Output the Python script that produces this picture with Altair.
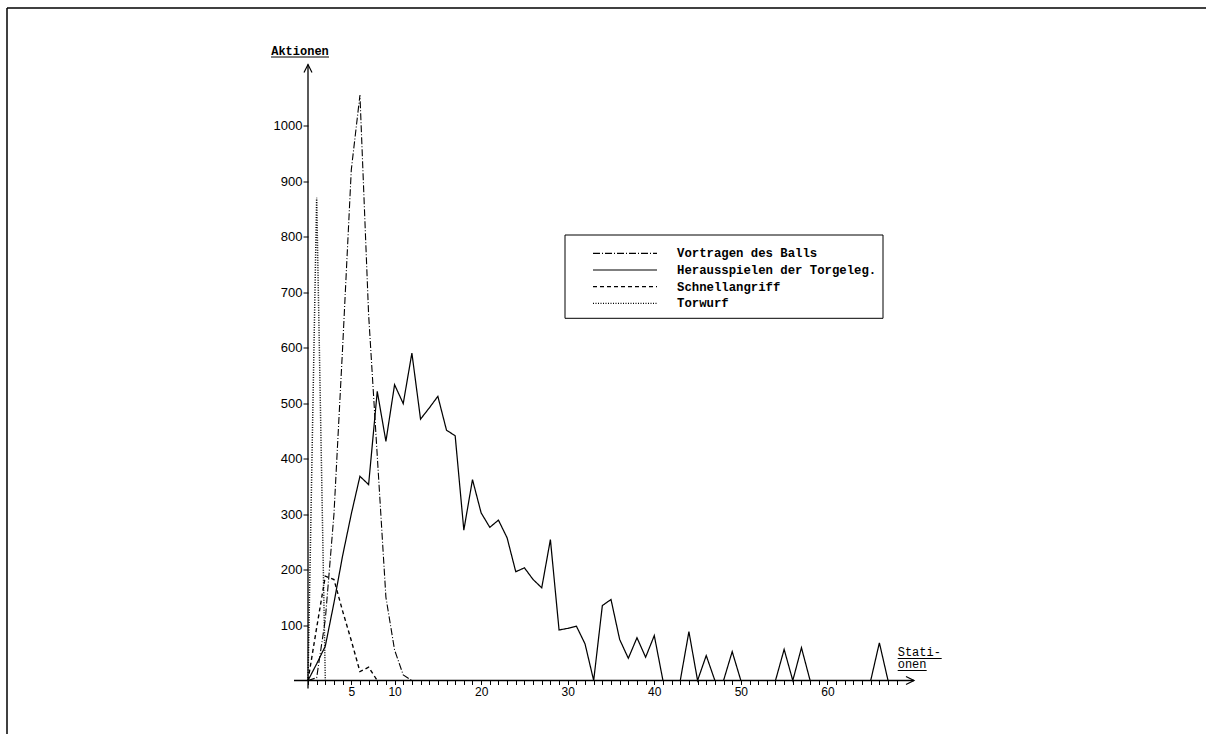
import altair as alt
import pandas as pd

# ---- data ----
series_names = ["Vortragen des Balls", "Herausspielen der Torgeleg.", "Schnellangriff", "Torwurf"]

vortragen = [0, 5, 110, 300, 600, 920, 1055, 660, 405, 150, 55, 10, 0]
herausspielen = [0, 30, 62, 140, 225, 300, 368, 353, 521, 431, 533, 499, 590, 471, 491,
                 512, 451, 441, 271, 362, 302, 276, 289, 257, 196, 203, 182, 167, 254, 91,
                 94, 98, 66, 0, 135, 146, 74, 40, 77, 42, 81, 0, 0, 0, 88, 0, 45, 0, 0,
                 52, 0, 0, 0, 0, 0, 56, 0, 59, 0, 0, 0, 0, 0, 0, 0, 0, 68, 0]
schnellangriff = [0, 95, 188, 182, 125, 72, 16, 24, 0]
torwurf = [0, 870, 0]

dash_patterns = [[7, 2, 1, 2], [1, 0], [4, 3], [1, 1.5]]
stroke_widths = [1.1, 1.5, 1.2, 1.1]

x_label_values = [5, 10, 20, 30, 40, 50, 60]
x_tick_values = list(range(0, 69))
y_tick_values = list(range(100, 1001, 100))

rows = []
for name, vals in zip(series_names, [vortragen, herausspielen, schnellangriff, torwurf]):
    for i, v in enumerate(vals):
        rows.append({"Serie": name, "Stationen": i, "Aktionen": v})
df = pd.DataFrame(rows)

W, H = 606, 616
MONO = "Liberation Mono"
SANS = "Liberation Sans"

x_scale = alt.Scale(domain=[0, 70], nice=False, zero=False)
y_scale = alt.Scale(domain=[0, 1110], nice=False)
dash_scale = alt.Scale(domain=series_names, range=dash_patterns)
width_scale = alt.Scale(domain=series_names, range=stroke_widths)

label_list = ",".join(str(v) for v in x_label_values)

lines = alt.Chart(df).mark_line(color="black").encode(
    x=alt.X("Stationen:Q", scale=x_scale,
            axis=alt.Axis(values=x_tick_values, title=None, domain=False, grid=False,
                          tickSize=4, tickColor="black", tickWidth=1, format="d",
                          labelExpr=f"indexof([{label_list}], datum.value) >= 0 ? datum.label : ''",
                          labelFont=SANS, labelFontSize=12, labelColor="black",
                          labelPadding=2, labelOverlap=False, labelFlush=False)),
    y=alt.Y("Aktionen:Q", scale=y_scale,
            axis=alt.Axis(values=y_tick_values, title=None, domain=False, grid=False,
                          tickSize=5, tickColor="black", tickWidth=1, format="d",
                          labelFont=SANS, labelFontSize=13, labelColor="black",
                          labelPadding=1, labelOverlap=False)),
    strokeDash=alt.StrokeDash("Serie:N", scale=dash_scale, legend=None),
    strokeWidth=alt.StrokeWidth("Serie:N", scale=width_scale, legend=None),
    order="Stationen:Q",
)

one = pd.DataFrame({"a": [0]})

y_axis_line = alt.Chart(one).mark_rule(color="black", strokeWidth=1.3).encode(
    x=alt.value(0), y=alt.value(0), y2=alt.value(H + 8))
x_axis_line = alt.Chart(one).mark_rule(color="black", strokeWidth=1.3).encode(
    x=alt.value(-14), x2=alt.value(W), y=alt.value(H))
y_arrow = alt.Chart(one).mark_point(shape="M-1,2L0,0L1,2", size=64, filled=False,
                                    color="black", strokeWidth=1.2, opacity=1).encode(
    x=alt.value(0), y=alt.value(0))
x_arrow = alt.Chart(one).mark_point(shape="M-2,-1L0,0L-2,1", size=64, filled=False,
                                    color="black", strokeWidth=1.2, opacity=1).encode(
    x=alt.value(W), y=alt.value(H))

# axis titles (typewriter style, underlined)
y_title = alt.Chart(one).mark_text(text="Aktionen", font=MONO, fontWeight="bold", fontSize=12,
                                   align="center", baseline="alphabetic", color="black").encode(
    x=alt.value(-8), y=alt.value(-9.5))
y_title_ul = alt.Chart(one).mark_rule(color="black", strokeWidth=1).encode(
    x=alt.value(-37), x2=alt.value(21), y=alt.value(-7.5))
x_title1 = alt.Chart(one).mark_text(text="Stati-", font=MONO, fontSize=12, align="left",
                                    baseline="alphabetic", color="black").encode(
    x=alt.value(589.7), y=alt.value(591.5))
x_title1_ul = alt.Chart(one).mark_rule(color="black", strokeWidth=1).encode(
    x=alt.value(589.7), x2=alt.value(633.7), y=alt.value(594))
x_title2 = alt.Chart(one).mark_text(text="onen", font=MONO, fontSize=12, align="left",
                                    baseline="alphabetic", color="black").encode(
    x=alt.value(589.7), y=alt.value(603.5))
x_title2_ul = alt.Chart(one).mark_rule(color="black", strokeWidth=1).encode(
    x=alt.value(589.7), x2=alt.value(618.7), y=alt.value(606))

# legend box
leg_df = pd.DataFrame({"Serie": series_names, "row": list(range(len(series_names)))})
leg_box = alt.Chart(one).mark_rect(fill="white", stroke="black", strokeWidth=1).encode(
    x=alt.value(257), x2=alt.value(575), y=alt.value(170.5), y2=alt.value(253.8))
leg_base = alt.Chart(leg_df).transform_calculate(ly="188.8 + 16.7 * datum.row")
leg_lines = leg_base.mark_rule(color="black", strokeWidth=1.2).encode(
    x=alt.value(285), x2=alt.value(349),
    y=alt.Y("ly:Q", scale=None),
    strokeDash=alt.StrokeDash("Serie:N", scale=dash_scale, legend=None),
)
leg_text = leg_base.mark_text(font=MONO, fontWeight="bold", fontSize=12.3, align="left",
                              baseline="middle", color="black").encode(
    x=alt.value(369), y=alt.Y("ly:Q", scale=None), text="Serie:N")

# outer frame (top and left edges)
frame_top = alt.Chart(one).mark_rule(color="black", strokeWidth=1.5).encode(
    x=alt.value(-301), x2=alt.value(898), y=alt.value(-56.5))
frame_left = alt.Chart(one).mark_rule(color="black", strokeWidth=1.5).encode(
    x=alt.value(-301), y=alt.value(-56.5), y2=alt.value(669.5))

chart = alt.layer(
    frame_top, frame_left,
    lines, y_axis_line, x_axis_line, y_arrow, x_arrow,
    y_title, y_title_ul, x_title1, x_title1_ul, x_title2, x_title2_ul,
    leg_box, leg_lines, leg_text,
).resolve_scale(strokeDash="shared").properties(
    width=W, height=H,
    padding={"left": 308, "top": 64.5, "right": 292, "bottom": 53.5},
    autosize=alt.AutoSizeParams(type="none"),
    background="white",
).configure_view(stroke=None)

chart.save("out.html", embed_options={"renderer": "svg", "actions": False})
